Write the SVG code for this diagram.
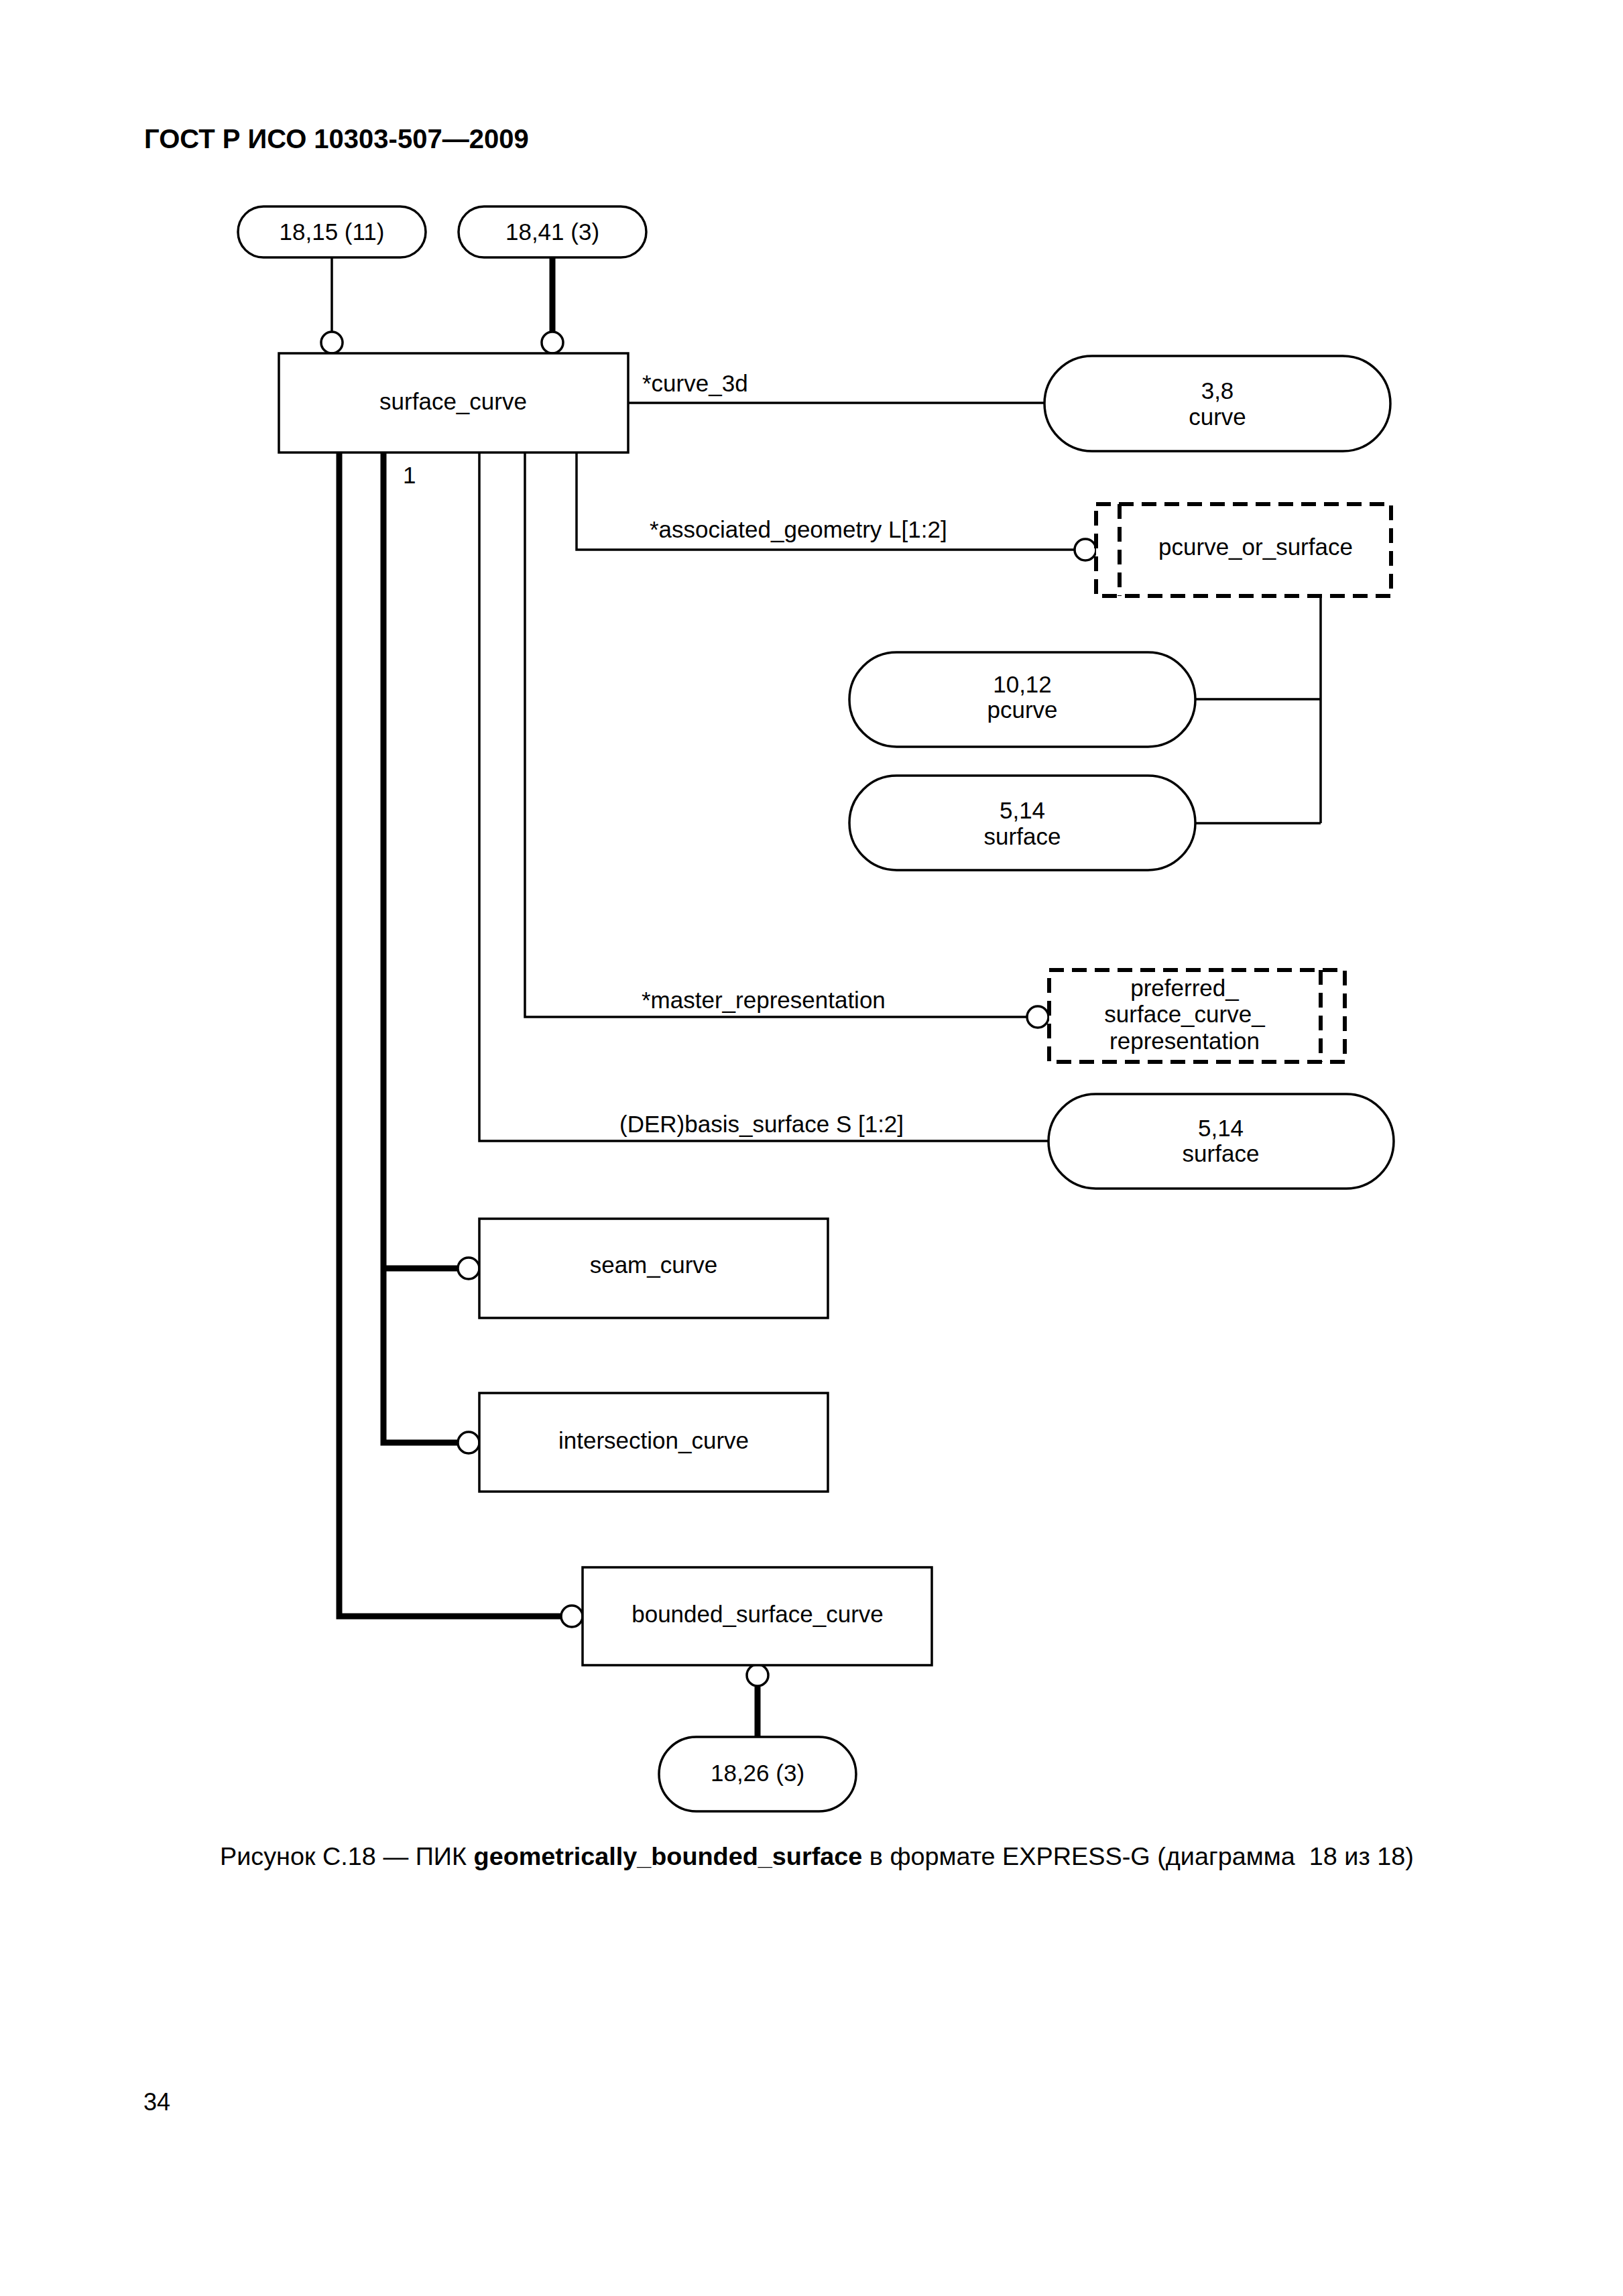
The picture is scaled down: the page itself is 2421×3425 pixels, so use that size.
<svg xmlns="http://www.w3.org/2000/svg" width="2421" height="3425" viewBox="0 0 2421 3425">
<style>
text{font-family:"Liberation Sans",Arial,sans-serif;font-size:35px;fill:#000}
.c{text-anchor:middle}
.box{fill:#fff;stroke:#000;stroke-width:3.5}
.dash{fill:#fff;stroke:#000;stroke-width:6;stroke-dasharray:22 12}
.dl{fill:none;stroke:#000;stroke-width:6;stroke-dasharray:22 12}
.thin{fill:none;stroke:#000;stroke-width:3.5}
.thick{fill:none;stroke:#000;stroke-width:9}
.circ{fill:#fff;stroke:#000;stroke-width:3.5}
</style>
<rect x="0" y="0" width="2421" height="3425" fill="#fff"/>
<text x="215" y="221" style="font-weight:bold;font-size:40px">ГОСТ Р ИСО 10303-507—2009</text>

<g id="connectors">
  <path class="thin" d="M495,384 V495"/>
  <path class="thick" d="M824,384 V495"/>
  <path class="thin" d="M937,601 H1558"/>
  <path class="thin" d="M860,675 V820 H1603"/>
  <path class="thin" d="M783,675 V1517 H1532"/>
  <path class="thin" d="M715,675 V1702 H1564"/>
  <path class="thin" d="M1970,889 V1228 M1783,1043 H1970 M1782,1228 H1970"/>
  <path class="thick" d="M506,675 V2411 H837"/>
  <path class="thick" d="M572,675 V2152 H683 M572,1892 H683"/>
  <path class="thick" d="M1130,2515 V2591"/>
  <circle class="circ" cx="495" cy="511" r="16"/>
  <circle class="circ" cx="824" cy="511" r="16"/>
  <circle class="circ" cx="1619" cy="820" r="16"/>
  <circle class="circ" cx="1548" cy="1517" r="16"/>
  <circle class="circ" cx="699" cy="1892" r="16"/>
  <circle class="circ" cx="699" cy="2152" r="16"/>
  <circle class="circ" cx="853" cy="2411" r="16"/>
  <circle class="circ" cx="1130" cy="2499" r="16"/>
  <text x="958" y="584">*curve_3d</text>
  <text x="969" y="802">*associated_geometry L[1:2]</text>
  <text x="957" y="1504">*master_representation</text>
  <text x="924" y="1689">(DER)basis_surface S [1:2]</text>
  <text x="601" y="721">1</text>
</g>

<g id="ref_18_15">
  <rect class="box" x="355" y="308" width="280" height="76" rx="38" ry="38"/>
  <text class="c" x="495" y="358">18,15 (11)</text>
</g>
<g id="ref_18_41">
  <rect class="box" x="684" y="308" width="280" height="76" rx="38" ry="38"/>
  <text class="c" x="824" y="358">18,41 (3)</text>
</g>
<g id="surface_curve">
  <rect class="box" x="416" y="527" width="521" height="148"/>
  <text class="c" x="676" y="611">surface_curve</text>
</g>
<g id="curve">
  <rect class="box" x="1558" y="531" width="516" height="142" rx="71" ry="71"/>
  <text class="c" x="1816" y="595">3,8</text>
  <text class="c" x="1816" y="634">curve</text>
</g>
<g id="pcurve_or_surface">
  <rect class="dash" x="1635" y="752" width="440" height="137"/>
  <path class="dl" d="M1670,752 V889"/>
  <text class="c" x="1873" y="828">pcurve_or_surface</text>
</g>
<g id="pcurve">
  <rect class="box" x="1267" y="973" width="516" height="141" rx="70.5" ry="70.5"/>
  <text class="c" x="1525" y="1033">10,12</text>
  <text class="c" x="1525" y="1071">pcurve</text>
</g>
<g id="surface_1">
  <rect class="box" x="1267" y="1157" width="516" height="141" rx="70.5" ry="70.5"/>
  <text class="c" x="1525" y="1221">5,14</text>
  <text class="c" x="1525" y="1260">surface</text>
</g>
<g id="preferred_surface_curve_representation">
  <rect class="dash" x="1565" y="1447" width="441" height="137"/>
  <path class="dl" d="M1970,1447 V1584"/>
  <text class="c" x="1767" y="1486">preferred_</text>
  <text class="c" x="1767" y="1525">surface_curve_</text>
  <text class="c" x="1767" y="1565">representation</text>
</g>
<g id="surface_2">
  <rect class="box" x="1564" y="1632" width="515" height="141" rx="70.5" ry="70.5"/>
  <text class="c" x="1821" y="1695">5,14</text>
  <text class="c" x="1821" y="1733">surface</text>
</g>
<g id="seam_curve">
  <rect class="box" x="715" y="1818" width="520" height="148"/>
  <text class="c" x="975" y="1899">seam_curve</text>
</g>
<g id="intersection_curve">
  <rect class="box" x="715" y="2078" width="520" height="147"/>
  <text class="c" x="975" y="2161">intersection_curve</text>
</g>
<g id="bounded_surface_curve">
  <rect class="box" x="869" y="2338" width="521" height="146"/>
  <text class="c" x="1130" y="2420">bounded_surface_curve</text>
</g>
<g id="ref_18_26">
  <rect class="box" x="983" y="2591" width="294" height="111" rx="55.5" ry="55.5"/>
  <text class="c" x="1130" y="2657">18,26 (3)</text>
</g>

<text x="328" y="2782" xml:space="preserve" style="font-size:37.8px">Рисунок С.18 — ПИК <tspan style="font-weight:bold">geometrically_bounded_surface</tspan> в формате EXPRESS-G (диаграмма  18 из 18)</text>
<text x="214" y="3148" style="font-size:36px">34</text>
</svg>
